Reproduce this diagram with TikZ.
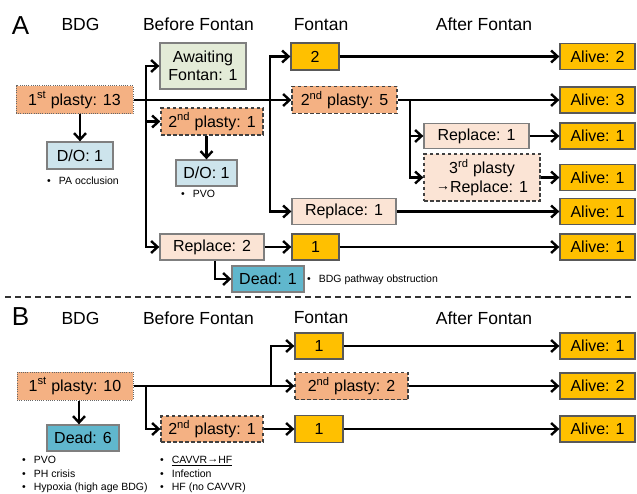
\documentclass[tikz,border=0pt]{standalone}
\usepackage{fontspec}
\setmainfont{Liberation Sans}
\usetikzlibrary{arrows.meta}
\usetikzlibrary{positioning}

\definecolor{plastyfill}{HTML}{F4B183}
\definecolor{replacefill}{HTML}{FBE4D5}
\definecolor{fontanfill}{HTML}{FFC000}
\definecolor{dofill}{HTML}{CDE4EC}
\definecolor{deadfill}{HTML}{60B7CD}
\definecolor{awaitfill}{HTML}{E3EBD7}
\definecolor{boxline}{HTML}{7F7F7F}

\tikzset{
  boxsize/.style 2 args={minimum width=#1pt,minimum height=#2pt},
  basebox/.style={inner sep=0pt,align=center,font=\fontsize{16}{18.5}\selectfont},
  firstplasty/.style={basebox,fill=plastyfill,draw=black!60,line width=1pt,dash pattern=on 1pt off 1.2pt},
  plasty/.style={basebox,fill=plastyfill,draw=black!75,line width=1.3pt,dash pattern=on 3.5pt off 2.5pt},
  replacebox/.style={basebox,fill=replacefill,draw=boxline,line width=1.3pt},
  replacedash/.style={basebox,fill=replacefill,draw=black!75,line width=1.3pt,dash pattern=on 3.5pt off 2.5pt},
  fontanbox/.style={basebox,fill=fontanfill,draw=black!65,line width=1.3pt},
  alivebox/.style={fontanbox,boxsize={75}{26}},
  dobox/.style={basebox,fill=dofill,draw=boxline,line width=1.3pt},
  deadbox/.style={basebox,fill=deadfill,draw=boxline,line width=1.3pt},
  awaitbox/.style={basebox,fill=awaitfill,draw=boxline,line width=1.3pt},
  hdr/.style={inner sep=0pt,font=\fontsize{17.5}{20}\selectfont},
  panellabel/.style={inner sep=0pt,font=\fontsize{26}{28}\selectfont},
  notetext/.style={inner sep=0pt,anchor=west,align=left,font=\fontsize{10.5}{13.5}\selectfont},
  flow/.style={line width=2.4pt,-{Straight Barb[length=6.5pt,width=12pt]}}
}

\begin{document}
\begin{tikzpicture}[x=1pt,y=-1pt]
	\useasboundingbox (0,0) rectangle (637,494);
	%PANEL A HEADERS
	\node[panellabel] (lblA) at (20.5,26) {A};
	\node[hdr] (hA1) at (80.5,24.5) {BDG};
	\node[hdr] (hA2) at (198.5,24.5) {Before Fontan};
	\node[hdr] (hA3) at (321,24.5) {Fontan};
	\node[hdr] (hA4) at (484,24.5) {After Fontan};
	%BDG
	\node[firstplasty,boxsize={117}{28}] (first13) at (74.5,100) {1\textsuperscript{st} plasty: 13};
	\node[dobox,boxsize={66}{27}] (doA1) at (80,155.5) {D/O: 1};
	\node[notetext] (nA1) at (47,181) {\textbullet\hspace{8pt}PA occlusion};
	%BEFORE FONTAN
	\node[awaitbox,boxsize={86}{46}] (await1) at (203,66) {Awaiting\\Fontan: 1};
	\node[plasty,boxsize={102}{27}] (second1) at (212,121.5) {2\textsuperscript{nd} plasty: 1};
	\node[dobox,boxsize={61}{26}] (doA2) at (206.5,173) {D/O: 1};
	\node[notetext] (nA2) at (181,194) {\textbullet\hspace{8pt}PVO};
	\node[replacebox,boxsize={104}{26}] (replace2) at (212,247) {Replace: 2};
	\node[deadbox,boxsize={72}{26}] (dead1) at (268,279) {Dead: 1};
	\node[notetext] (nA3) at (307,280) {\textbullet\hspace{8pt}BDG pathway obstruction};
	%FONTAN
	\node[fontanbox,boxsize={48}{27}] (fontan2) at (315,56.5) {2};
	\node[plasty,boxsize={105}{27}] (second5) at (344.5,100) {2\textsuperscript{nd} plasty: 5};
	\node[replacebox,boxsize={104}{26}] (replace1f) at (344,211.5) {Replace: 1};
	\node[fontanbox,boxsize={47}{26}] (fontan1) at (315.5,247) {1};
	%AFTER FONTAN
	\node[replacebox,boxsize={105}{25}] (replace1a) at (476.5,136) {Replace: 1};
	\node[replacedash,boxsize={116}{47}] (third1) at (482,177.5) {3\textsuperscript{rd} plasty\\\raisebox{2pt}{\fontsize{14}{14}\selectfont →}Replace: 1};
	\node[alivebox] (alA1) at (597.5,56.5) {Alive: 2};
	\node[alivebox] (alA2) at (597.5,100) {Alive: 3};
	\node[alivebox] (alA3) at (597.5,136) {Alive: 1};
	\node[alivebox] (alA4) at (597.5,177.5) {Alive: 1};
	\node[alivebox] (alA5) at (597.5,211.5) {Alive: 1};
	\node[alivebox] (alA6) at (597.5,247) {Alive: 1};
	%CONNECTORS A
	\coordinate (jA1) at (146,100);
	\coordinate (jA2) at (270,100);
	\coordinate (jA3) at (410,100);
	\draw[flow] (first13.east) -- (second5.west);
	\draw[flow] (doA1.north |- first13.south) -- (doA1.north);
	\draw[flow] (jA1) |- (await1.west);
	\draw[flow] (jA1) |- (second1.west);
	\draw[flow] (jA1) |- (replace2.west);
	\draw[flow] (doA2.north |- second1.south) -- (doA2.north);
	\draw[flow] (replace2.east) -- (fontan1.west);
	\draw[flow] ([xshift=3pt]replace2.south) |- (dead1.west);
	\draw[flow] (jA2) |- (fontan2.west);
	\draw[flow] (jA2) |- (replace1f.west);
	\draw[flow] (jA3) |- (replace1a.west);
	\draw[flow] (jA3) |- (third1.west);
	\draw[flow] (fontan2.east) -- (alA1.west);
	\draw[flow] (second5.east) -- (alA2.west);
	\draw[flow] (replace1a.east) -- (alA3.west);
	\draw[flow] (third1.east) -- (alA4.west);
	\draw[flow] (replace1f.east) -- (alA5.west);
	\draw[flow] (fontan1.east) -- (alA6.west);

	%SEPARATOR
	\draw[line width=1.5pt,black!80,dash pattern=on 6pt off 4pt] (5,297) -- (632,297);

	%PANEL B HEADERS
	\node[panellabel] (lblB) at (20.5,317) {B};
	\node[hdr] (hB1) at (80.5,318) {BDG};
	\node[hdr] (hB2) at (198.5,318) {Before Fontan};
	\node[hdr] (hB3) at (321,318) {Fontan};
	\node[hdr] (hB4) at (484,318) {After Fontan};
	%BDG
	\node[firstplasty,boxsize={116}{28}] (first10) at (75,386) {1\textsuperscript{st} plasty: 10};
	\node[deadbox,boxsize={72}{26}] (dead6) at (83,438) {Dead: 6};
	\node[notetext] (nB1) at (22,474.5) {\textbullet\hspace{8pt}PVO\\\textbullet\hspace{8pt}PH crisis\\\textbullet\hspace{8pt}Hypoxia (high age BDG)};
	%BEFORE FONTAN
	\node[plasty,boxsize={102}{26}] (second1B) at (212,429) {2\textsuperscript{nd} plasty: 1};
	\node[notetext] (nB2) at (160,474.5) {\textbullet\hspace{8pt}\underline{CAVVR\raisebox{1pt}{\fontsize{11}{11}\selectfont →}HF}\\\textbullet\hspace{8pt}Infection\\\textbullet\hspace{8pt}HF (no CAVVR)};
	%FONTAN
	\node[fontanbox,boxsize={48}{26}] (fontanB1) at (319,346) {1};
	\node[plasty,boxsize={113}{27}] (second2) at (351.5,386) {2\textsuperscript{nd} plasty: 2};
	\node[fontanbox,boxsize={48}{27}] (fontanB2) at (319,429) {1};
	%AFTER FONTAN
	\node[alivebox] (alB1) at (597.5,346) {Alive: 1};
	\node[alivebox] (alB2) at (597.5,386) {Alive: 2};
	\node[alivebox] (alB3) at (597.5,429) {Alive: 1};
	%CONNECTORS B
	\coordinate (jB1) at (146,386);
	\coordinate (jB2) at (271,386);
	\draw[flow] (first10.east) -- (second2.west);
	\draw[flow] ([xshift=-4pt]dead6.north |- first10.south) -- ([xshift=-4pt]dead6.north);
	\draw[flow] (jB1) |- (second1B.west);
	\draw[flow] (jB2) |- (fontanB1.west);
	\draw[flow] (second1B.east) -- (fontanB2.west);
	\draw[flow] (fontanB1.east) -- (alB1.west);
	\draw[flow] (second2.east) -- (alB2.west);
	\draw[flow] (fontanB2.east) -- (alB3.west);
\end{tikzpicture}
\end{document}
